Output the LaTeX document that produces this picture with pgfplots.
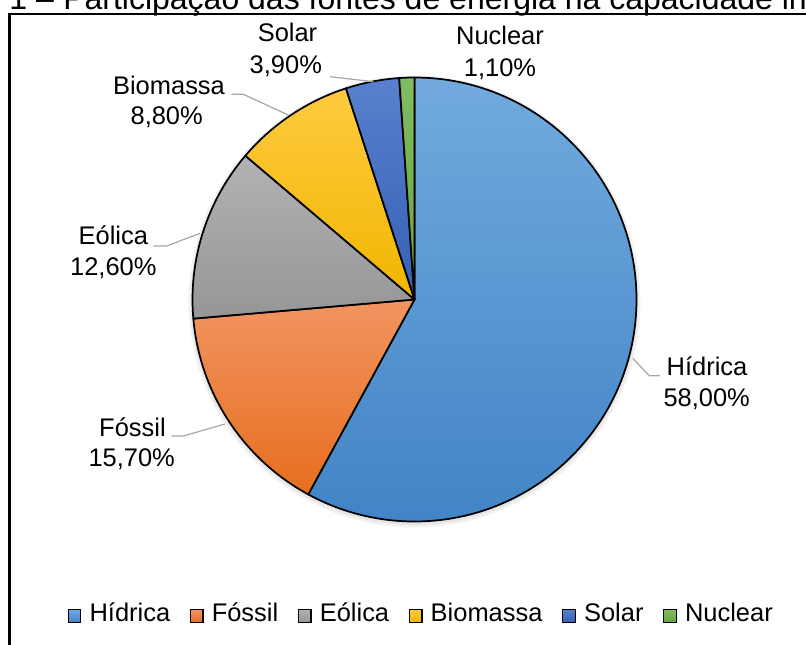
\documentclass[border=0pt]{standalone}
\usepackage{pgfplots}
\usepackage{pgfplotstable}
\pgfplotsset{compat=1.18}
\usepackage{fontspec}
\setmainfont{Liberation Sans}

\definecolor{c0T}{RGB}{114,170,222}\definecolor{c0B}{RGB}{66,132,198}
\definecolor{c1T}{RGB}{242,148,98}\definecolor{c1B}{RGB}{230,110,30}
\definecolor{c2T}{RGB}{178,178,178}\definecolor{c2B}{RGB}{150,150,150}
\definecolor{c3T}{RGB}{255,202,64}\definecolor{c3B}{RGB}{240,182,0}
\definecolor{c4T}{RGB}{88,128,206}\definecolor{c4B}{RGB}{52,96,180}
\definecolor{c5T}{RGB}{128,188,98}\definecolor{c5B}{RGB}{100,165,62}
\definecolor{leader}{RGB}{166,166,166}

\pgfplotstableread[col sep=comma]{
fonte,valor
Hídrica,58.0
Fóssil,15.7
Eólica,12.6
Biomassa,8.8
Solar,3.9
Nuclear,1.1
}\piedata

% cumulative angles (clockwise from the top)
\def\pietotal{0}
\pgfplotsforeachungrouped \i in {0,...,5}{%
  \pgfplotstablegetelem{\i}{valor}\of\piedata
  \pgfmathsetmacro\pietotal{\pietotal+\pgfplotsretval}}
\def\piecum{0}
\pgfplotsforeachungrouped \i in {0,...,5}{%
  \pgfplotstablegetelem{\i}{valor}\of\piedata
  \pgfmathsetmacro\pieS{90-(\piecum/\pietotal)*360}
  \pgfmathsetmacro\piecum{\piecum+\pgfplotsretval}
  \pgfmathsetmacro\pieE{90-(\piecum/\pietotal)*360}
  \expandafter\xdef\csname pieS\i\endcsname{\pieS}
  \expandafter\xdef\csname pieE\i\endcsname{\pieE}}

\newcommand\lab{\fontsize{19.1pt}{22.9pt}\selectfont}

\begin{document}
\begin{tikzpicture}
\begin{axis}[
  width=604.5pt, height=483.75pt, scale only axis,
  hide axis, xmin=0, xmax=806, ymin=0, ymax=645, y dir=reverse,
  clip=false,
]
% soft shadow
\fill[black, opacity=0.05] (axis cs:414.5,301.5) circle[radius=169.5pt];
\fill[black, opacity=0.05] (axis cs:414.5,301) circle[radius=168pt];
% sectors
\pgfplotsinvokeforeach{0,...,5}{%
  \edef\temp{\noexpand\shadedraw[top color=c#1T, bottom color=c#1B, draw=black,
     line width=1.3pt, line join=round]
   (axis cs:414.5,299.5) -- ++(\csname pieS#1\endcsname:166.5pt)
   arc[start angle=\csname pieS#1\endcsname, end angle=\csname pieE#1\endcsname, radius=166.5pt] -- cycle;}
  \temp
}
% leader lines
\draw[leader, line width=0.9pt] (axis cs:632.7,358.3) -- (axis cs:649.3,375.7) -- (axis cs:660,375.7);
\draw[leader, line width=0.9pt] (axis cs:225,424) -- (axis cs:183.3,436) -- (axis cs:171.7,436);
\draw[leader, line width=0.9pt] (axis cs:200,233.3) -- (axis cs:166.7,246) -- (axis cs:153.3,246);
\draw[leader, line width=0.9pt] (axis cs:288.3,115) -- (axis cs:243.3,94.3) -- (axis cs:231.7,94.3);
\draw[leader, line width=0.9pt] (axis cs:373.3,81.7) -- (axis cs:330,76.7);
% data labels
\begin{scope}[every node/.style={anchor=base, inner sep=0pt, font=\lab}]
\node at (axis cs:707,375.7) {Hídrica};
\node at (axis cs:706.7,406) {58,00\%};
\node at (axis cs:132.5,436) {Fóssil};
\node at (axis cs:131.7,466.7) {15,70\%};
\node at (axis cs:113.3,245) {Eólica};
\node at (axis cs:113.3,276) {12,60\%};
\node at (axis cs:169,95) {Biomassa};
\node at (axis cs:166.7,125) {8,80\%};
\node at (axis cs:287.5,41.7) {Solar};
\node at (axis cs:285.8,73.3) {3,90\%};
\node at (axis cs:500,44.3) {Nuclear};
\node at (axis cs:500,76.7) {1,10\%};
\end{scope}
% legend (bottom row)
\begin{scope}[every node/.style={anchor=base west, inner sep=0pt, font=\lab},
  lsq/.style={draw=black, line width=1pt}]
\node (t0) at (axis cs:89.3,621.7) {Hídrica};
\node (t1) at ([xshift=30.75pt]t0.base east) {Fóssil};
\node (t2) at ([xshift=30.75pt]t1.base east) {Eólica};
\node (t3) at ([xshift=30.75pt]t2.base east) {Biomassa};
\node (t4) at ([xshift=30.75pt]t3.base east) {Solar};
\node (t5) at ([xshift=30.75pt]t4.base east) {Nuclear};
\shadedraw[lsq, top color=c0T, bottom color=c0B] ([xshift=-15.75pt,yshift=-0.4pt]t0.base west) rectangle ++(9.3pt,9.6pt);
\shadedraw[lsq, top color=c1T, bottom color=c1B] ([xshift=-15.75pt,yshift=-0.4pt]t1.base west) rectangle ++(9.3pt,9.6pt);
\shadedraw[lsq, top color=c2T, bottom color=c2B] ([xshift=-15.75pt,yshift=-0.4pt]t2.base west) rectangle ++(9.3pt,9.6pt);
\shadedraw[lsq, top color=c3T, bottom color=c3B] ([xshift=-15.75pt,yshift=-0.4pt]t3.base west) rectangle ++(9.3pt,9.6pt);
\shadedraw[lsq, top color=c4T, bottom color=c4B] ([xshift=-15.75pt,yshift=-0.4pt]t4.base west) rectangle ++(9.3pt,9.6pt);
\shadedraw[lsq, top color=c5T, bottom color=c5B] ([xshift=-15.75pt,yshift=-0.4pt]t5.base west) rectangle ++(9.3pt,9.6pt);
\end{scope}
% frame and cut-off title
\draw[line width=1.6pt] (axis cs:9.5,700) -- (axis cs:9.5,13.8) -- (axis cs:900,13.8);
\node[anchor=base west, inner sep=0pt, font=\fontsize{24pt}{28pt}\selectfont] at (axis cs:63,9.5) {Participação das fontes de energia na capacidade instalada};
\node[anchor=base east, inner sep=0pt, font=\fontsize{24pt}{28pt}\selectfont] at (axis cs:54.1,9.5) {Gráfico 1 –};
\end{axis}
\pgfresetboundingbox
\useasboundingbox (0,0) rectangle (604.5pt,483.75pt);
\end{tikzpicture}
\end{document}
